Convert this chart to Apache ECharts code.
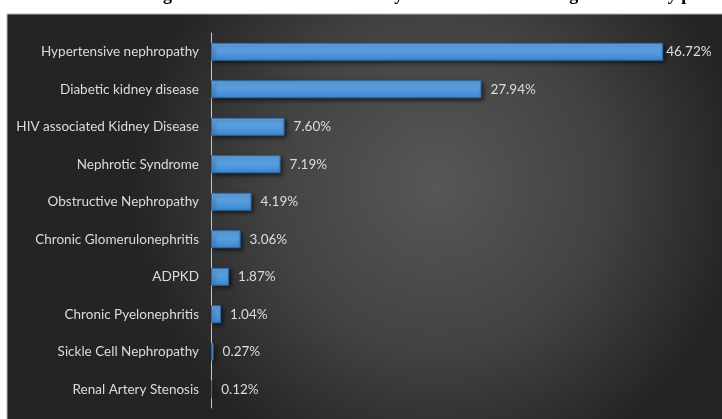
<!DOCTYPE html>
<html>
<head>
<meta charset="utf-8">
<script src="https://cdn.jsdelivr.net/npm/echarts@6/dist/echarts.min.js"></script>
<style>
  html, body { margin: 0; padding: 0; background: #fff; }
  #main { width: 722px; height: 419px; }
</style>
</head>
<body>
<div id="main"></div>
<script>
// causes, top to bottom
const causes = [
  'Hypertensive nephropathy',
  'Diabetic kidney disease',
  'HIV associated Kidney Disease',
  'Nephrotic Syndrome',
  'Obstructive Nephropathy',
  'Chronic Glomerulonephritis',
  'ADPKD',
  'Chronic Pyelonephritis',
  'Sickle Cell Nephropathy',
  'Renal Artery Stenosis'
]
// percent of patients
const percents = [46.72, 27.94, 7.60, 7.19, 4.19, 3.06, 1.87, 1.04, 0.27, 0.12]

// title sits above the crop, only its descenders show
const titleText = 'Figure 1: Distribution of CKD by the main cause among all the study patients'

const chart = echarts.init(document.getElementById('main'))

// the longest bar's label is pulled in close to the bar end
const barData = percents.map((v, i) => i === 0 ? { value: v, label: { distance: 3 } } : v)

const option = {
  animation: false,
  graphic: [
    {
      type: 'rect',
      z: -10,
      shape: { x: 7, y: 14, width: 716, height: 406 },
      style: {
        fill: {
          type: 'radial',
          x: 0.6, y: 0.42, r: 0.75,
          colorStops: [
            { offset: 0, color: '#575757' },
            { offset: 0.55, color: '#424242' },
            { offset: 1, color: '#242424' }
          ]
        },
        stroke: '#b5b5b5',
        lineWidth: 1
      }
    },
    {
      type: 'text',
      left: 147,
      top: -14,
      style: {
        text: titleText,
        font: 'bold 18px "Liberation Serif"',
        fill: '#000'
      }
    }
  ],
  grid: {
    left: 211,
    right: 27,
    top: 33,
    bottom: 11
  },
  xAxis: {
    type: 'value',
    min: 0,
    max: 50,
    show: false
  },
  yAxis: {
    type: 'category',
    data: causes,
    inverse: true,
    axisLine: { lineStyle: { color: '#c8c8c8', width: 1 } },
    axisTick: { length: 4, lineStyle: { color: '#c8c8c8' } },
    axisLabel: {
      color: '#dcdcdc',
      fontFamily: 'Lato',
      fontSize: 13.5,
      margin: 12
    }
  },
  series: [
    {
      type: 'bar',
      data: barData,
      barWidth: 18,
      itemStyle: {
        color: {
          type: 'linear', x: 0, y: 0, x2: 0, y2: 1,
          colorStops: [
            { offset: 0, color: '#6aaeec' },
            { offset: 1, color: '#4088d2' }
          ]
        },
        borderColor: '#2c6aa8',
        borderWidth: 1,
        shadowColor: 'rgba(0,0,0,0.6)',
        shadowBlur: 4,
        shadowOffsetX: 2,
        shadowOffsetY: 2
      },
      label: {
        show: true,
        position: 'right',
        distance: 9,
        color: '#dcdcdc',
        fontFamily: 'Lato',
        fontSize: 13.5,
        formatter: p => p.value.toFixed(2) + '%'
      }
    }
  ]
}

chart.setOption(option)
</script>
</body>
</html>
